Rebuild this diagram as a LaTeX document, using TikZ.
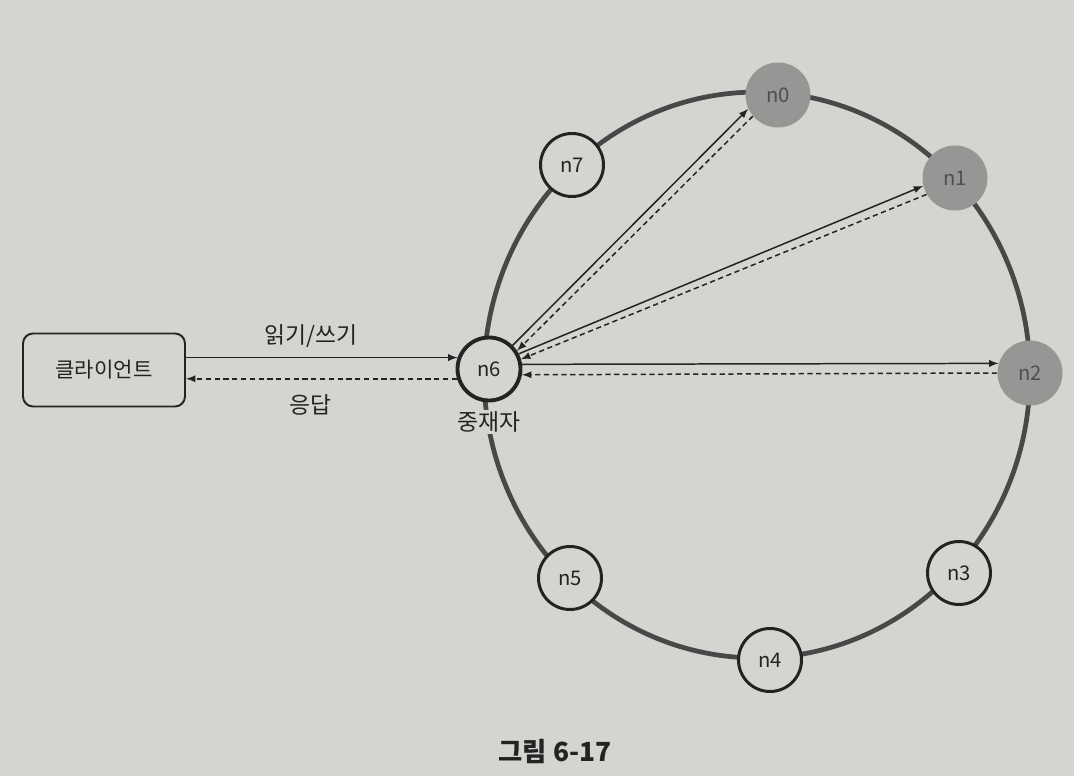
\documentclass[tikz,border=0pt]{standalone}
\usepackage{fontspec}
\setmainfont{Noto Sans CJK KR}
\usetikzlibrary{positioning}

\definecolor{paper}{RGB}{212,212,208}
\definecolor{ink}{RGB}{35,35,35}
\definecolor{ringline}{RGB}{72,72,72}
\definecolor{replica}{RGB}{150,150,148}

\tikzset{
  peer/.style={circle, draw=ink, line width=1.7pt, fill=paper, minimum size=1.26cm,
    inner sep=0pt, text=ink, font=\fontsize{11.5}{13}\selectfont},
  coord/.style={peer, line width=2.2pt},
  hot/.style={circle, fill=replica, minimum size=1.3cm, inner sep=0pt,
    text=ink!80, font=\fontsize{11.5}{13}\selectfont},
  clientbox/.style={draw=ink, line width=1.1pt, rounded corners=0.2cm, fill=paper,
    minimum width=3.24cm, minimum height=1.46cm, text=ink, font=\fontsize{12}{14}\selectfont},
  lbl/.style={text=ink, font=\fontsize{13}{15}\selectfont},
  req/.style={draw=ink, line width=0.85pt, -latex},
  resp/.style={draw=ink, line width=0.85pt, densely dashed, -latex},
}

\begin{document}
\begin{tikzpicture}[x=0.02cm, y=-0.02cm]
  \fill[paper] (0,0) rectangle (1074,776);% page

  % the ring
  \draw[ringline, line width=2.7pt] (757,375) ellipse [x radius=5.46cm, y radius=5.66cm];

  \node[hot] (n0) at (778,95) {n0};
  \node[hot] (n1) at (955,178) {n1};
  \node[hot] (n2) at (1030,373) {n2};
  \node[peer] (n3) at (959,573) {n3};
  \node[peer] (n4) at (770,660) {n4};
  \node[peer] (n5) at (570,578) {n5};
  \node[coord] (n6) at (489,369) {n6};
  \node[peer] (n7) at (572,165) {n7};
  \node[lbl, fill=paper, inner sep=1pt, below=4pt of n6] (n6lbl) {중재자};

  \node[clientbox] (client) at (104,370) {클라이언트};

  % client <-> coordinator
  \draw[req] (client.east |- n6.160) -- node[lbl, above=2pt, xshift=-0.22cm] (rw) {읽기/쓰기} (n6.160);
  \draw[resp] (n6.197) -- node[lbl, below=5pt, xshift=-0.22cm] (ack) {응답} (client.east |- n6.197);

  % coordinator <-> replicas
  \draw[req] (n6.45) -- (n0.205);
  \draw[resp] (n0.220) -- (n6.33);
  \draw[req] (n6.27) -- (n1.194);
  \draw[resp] (n1.210) -- (n6.17);
  \draw[req] (n6.8) -- (n2.163);
  \draw[resp] (n2.180) -- (n6.350);

  \node[text=ink, font=\fontsize{15}{17}\selectfont\bfseries] (cap) at (555,752) {그림 6-17};
\end{tikzpicture}
\end{document}
